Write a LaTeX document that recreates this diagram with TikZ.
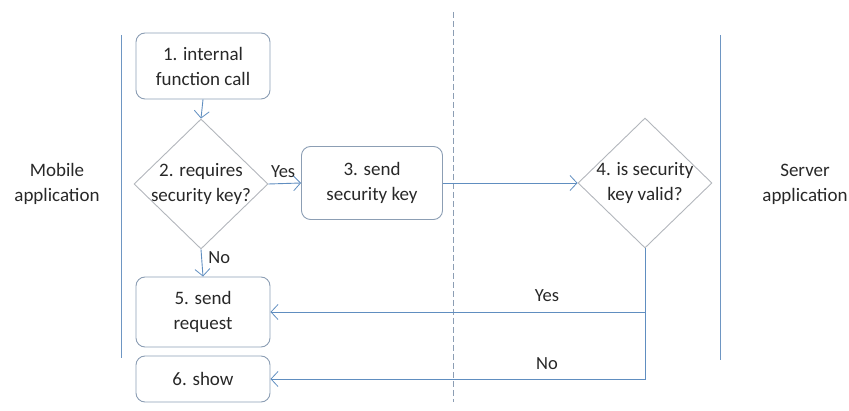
\documentclass[tikz,border=0pt]{standalone}
\usepackage{fontspec}
\setmainfont{Carlito}
\usetikzlibrary{shapes.geometric,arrows.meta}
\definecolor{flow}{RGB}{96,142,192}
\definecolor{boxline}{RGB}{140,158,180}
\definecolor{diaLine}{RGB}{178,182,188}
\definecolor{ink}{RGB}{40,40,40}
\definecolor{lane}{RGB}{110,150,195}
\begin{document}
\begin{tikzpicture}[x=1pt,y=-1pt,
  every node/.style={font=\fontsize{19}{25}\selectfont, text=ink, align=center},
  stepbox/.style={draw=boxline, line width=0.9pt, rounded corners=9pt, inner sep=0pt},
  choice/.style={draw=diaLine, line width=0.9pt, diamond, aspect=1, inner sep=-8pt,
    minimum width=134pt, minimum height=130pt},
  flowline/.style={draw=flow, line width=0.9pt},
  flowarrow/.style={flowline, -{Straight Barb[length=7pt,width=15pt,line width=0.8pt]}},
  tag/.style={font=\fontsize{18.5}{20}\selectfont}]
  \useasboundingbox (0,0) rectangle (849,411);

  % swimlane separators
  \coordinate (laneLtop) at (121,35);
  \coordinate (laneLbot) at (121,358);
  \coordinate (midtop) at (453,12);
  \coordinate (midbot) at (453,402);
  \coordinate (laneRtop) at (720,35);
  \coordinate (laneRbot) at (720,360);
  \draw[lane, line width=0.9pt] (laneLtop) -- (laneLbot);
  \draw[lane, line width=0.9pt] (laneRtop) -- (laneRbot);
  \draw[boxline, line width=0.9pt, dash pattern=on 6pt off 3pt] (midtop) -- (midbot);

  % lane titles
  \node (mobile) at (57,184) {Mobile\\application};
  \node (server) at (805,184) {Server\\application};

  % steps
  \node[stepbox, minimum width=134pt, minimum height=66pt] (s1) at (203,66) {1. internal\\function call};
  \node[choice] (s2) at (201,184) {2. requires\\security key?};
  \node[stepbox, minimum width=141pt, minimum height=73pt] (s3) at (372,183) {3. send\\security key};
  \node[choice] (s4) at (645,183) {4. is security\\key valid?};
  \node[stepbox, minimum width=134pt, minimum height=70pt] (s5) at (203,312) {5. send\\request};
  \node[stepbox, minimum width=134pt, minimum height=46pt] (s6) at (203,379) {6. show};

  % connectors
  \draw[flowarrow] (s1.south) -- (s2.north);
  \draw[flowarrow] (s2.east) -- (s3.west) node[tag, pos=0.45, above=2pt] (yes1) {Yes};
  \draw[flowarrow] (s2.south) -- (s5.north) node[tag, pos=0.3, right=3pt] (no1) {No};
  \draw[flowarrow] (s3.east) -- (s4.west);
  \draw[flowarrow] (s4.south) |- (s5.east);
  \draw[flowarrow] (s4.south) |- (s6.east);
  \node[tag] (yes2) at (547,296) {Yes};
  \node[tag] (no2) at (547,364) {No};
\end{tikzpicture}
\end{document}
